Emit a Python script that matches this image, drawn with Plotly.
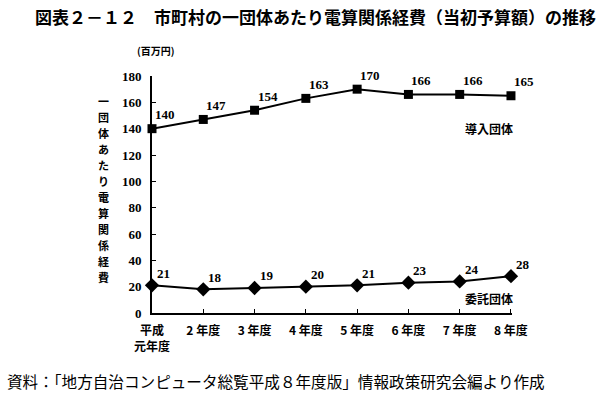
import plotly.graph_objects as go

categories = ["平成<br>元年度", "2 年度", "3 年度", "4 年度", "5 年度", "6 年度", "7 年度", "8 年度"]
donyu = [140, 147, 154, 163, 170, 166, 166, 165]
itaku = [21, 18, 19, 20, 21, 23, 24, 28]
y_ticks = [0, 20, 40, 60, 80, 100, 120, 140, 160, 180]
title_text = "図表２－１２　市町村の一団体あたり電算関係経費（当初予算額）の推移"
unit_text = "(百万円)"
ytitle_text = "一団体あたり電算関係経費"
source_text = "資料：「地方自治コンピュータ総覧平成８年度版」情報政策研究会編より作成"
series_names = ["導入団体", "委託団体"]

CJK = "Noto Sans CJK JP"
SERIF = "Liberation Serif"

xs = list(range(len(categories)))

L, R, T, B = 152, 88, 76, 83
W, H = 600, 396
pw, ph = W - L - R, H - T - B


def px(xp):
    return (xp - L) / pw


def py(yp):
    return (H - B - yp) / ph


fig = go.Figure()
fig.add_trace(go.Scatter(
    x=xs, y=donyu, mode="lines+markers", name=series_names[0],
    line=dict(color="black", width=2),
    marker=dict(symbol="square", size=9, color="black"),
    cliponaxis=False, showlegend=False, hoverinfo="skip"))
fig.add_trace(go.Scatter(
    x=xs, y=itaku, mode="lines+markers", name=series_names[1],
    line=dict(color="black", width=2),
    marker=dict(symbol="diamond", size=11, color="black"),
    cliponaxis=False, showlegend=False, hoverinfo="skip"))

annotations = []
for x, v in zip(xs, donyu):
    annotations.append(dict(x=x, y=v, xref="x", yref="y", text=str(v), showarrow=False,
                            xanchor="left", yanchor="middle", xshift=1, yshift=14,
                            font=dict(family=SERIF, size=13, color="black", weight="bold")))
for x, v in zip(xs, itaku):
    annotations.append(dict(x=x, y=v, xref="x", yref="y", text=str(v), showarrow=False,
                            xanchor="left", yanchor="middle", xshift=3, yshift=12,
                            font=dict(family=SERIF, size=13, color="black", weight="bold")))

# series labels
annotations.append(dict(x=px(489), y=py(128), xref="paper", yref="paper", text=series_names[0],
                        showarrow=False, xanchor="center", yanchor="middle",
                        font=dict(family=CJK, size=12, color="black", weight="bold")))
annotations.append(dict(x=px(489), y=py(298), xref="paper", yref="paper", text=series_names[1],
                        showarrow=False, xanchor="center", yanchor="middle",
                        font=dict(family=CJK, size=12, color="black", weight="bold")))
# unit label
annotations.append(dict(x=px(156), y=py(50), xref="paper", yref="paper", text=unit_text,
                        showarrow=False, xanchor="center", yanchor="middle",
                        font=dict(family=CJK, size=10, color="black", weight="bold")))
# vertical y title, one character per line
for i, ch in enumerate(ytitle_text):
    annotations.append(dict(x=px(103), y=py(101 + 16 * i), xref="paper", yref="paper",
                            text=ch, showarrow=False, xanchor="center", yanchor="middle",
                            borderpad=0,
                            font=dict(family=CJK, size=11, color="black", weight="bold")))
# title
annotations.append(dict(x=px(33), y=py(17), xref="paper", yref="paper", text=title_text,
                        showarrow=False, xanchor="left", yanchor="middle",
                        font=dict(family=CJK, size=17, color="black", weight="bold")))
# source
annotations.append(dict(x=px(5), y=py(381), xref="paper", yref="paper", text=source_text,
                        showarrow=False, xanchor="left", yanchor="middle",
                        font=dict(family=CJK, size=15.6, color="black")))

fig.update_layout(
    width=W, height=H, autosize=False,
    margin=dict(l=L, r=R, t=T, b=B, pad=0),
    paper_bgcolor="white", plot_bgcolor="white",
    annotations=annotations,
    hovermode=False,
    xaxis=dict(range=[0, 7.02], tickmode="array", tickvals=xs, ticktext=categories,
               showline=True, linecolor="black", linewidth=2, showgrid=False, zeroline=False,
               ticks="inside", ticklen=4, tickcolor="black", tickwidth=1,
               ticklabelstandoff=6,
               tickfont=dict(family=CJK, size=12, color="black", weight="bold")),
    yaxis=dict(range=[0, 180], tickmode="array", tickvals=y_ticks,
               showline=True, linecolor="black", linewidth=2, showgrid=False, zeroline=False,
               ticks="inside", ticklen=4, tickcolor="black", tickwidth=1,
               ticklabelstandoff=6,
               tickfont=dict(family=SERIF, size=13, color="black", weight="bold")),
)

fig.write_html("out.html",
               config={"displayModeBar": False, "staticPlot": True},
               post_script="document.body.style.margin='0';document.body.style.overflow='hidden';")
